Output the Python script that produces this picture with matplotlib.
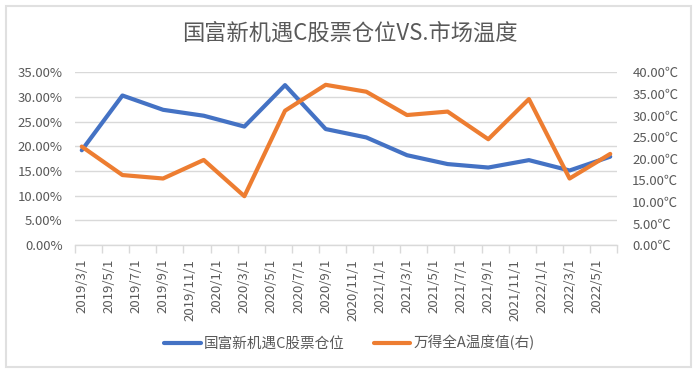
import numpy as np
import pandas as pd
import matplotlib
matplotlib.use('Agg')
import matplotlib.pyplot as plt
from matplotlib.patches import Rectangle
from matplotlib.ticker import MultipleLocator, FuncFormatter, FixedLocator

plt.rcParams['font.family'] = ['Noto Sans CJK SC', 'DejaVu Sans']

# quarterly observations (month of report)
quarters = ['2019-03', '2019-06', '2019-09', '2019-12', '2020-03', '2020-06', '2020-09',
            '2020-12', '2021-03', '2021-06', '2021-09', '2021-12', '2022-03', '2022-06']
stock_pos = [19.2, 30.3, 27.4, 26.2, 24.0, 32.4, 23.5, 21.8, 18.2, 16.4, 15.7, 17.2, 15.1, 17.9]  # %
temperature = [22.8, 16.2, 15.4, 19.7, 11.3, 31.1, 37.1, 35.5, 30.1, 30.9, 24.5, 33.8, 15.4, 21.1]  # ℃
tick_labels = ['2019/3/1', '2019/5/1', '2019/7/1', '2019/9/1', '2019/11/1', '2020/1/1',
               '2020/3/1', '2020/5/1', '2020/7/1', '2020/9/1', '2020/11/1', '2021/1/1',
               '2021/3/1', '2021/5/1', '2021/7/1', '2021/9/1', '2021/11/1', '2022/1/1',
               '2022/3/1', '2022/5/1']

title = '国富新机遇C股票仓位VS.市场温度'
name1 = '国富新机遇C股票仓位'
name2 = '万得全A温度值(右)'

grey_txt = '#595959'
grey_line = '#D9D9D9'


def month_index(d):
    # months since 2019/3, each month is one slot on the axis (Excel date axis)
    return (d.year - 2019) * 12 + d.month - 3


x = np.array([month_index(d) for d in pd.to_datetime(quarters, format='%Y-%m')]) + 0.5
tick_pos = np.array([month_index(d) for d in pd.to_datetime(tick_labels, format='%Y/%m/%d')]) + 0.5

fig = plt.figure(figsize=(6.99, 3.77), dpi=100)
W, H = 699, 377
ax = fig.add_axes([75 / W, 1 - 245 / H, (617 - 75) / W, (245 - 72.3) / H])
ax2 = ax.twinx()

l1, = ax.plot(x, stock_pos, color='#4472C4', lw=3, solid_joinstyle='round', solid_capstyle='round')
l2, = ax2.plot(x, temperature, color='#ED7D31', lw=3, solid_joinstyle='round', solid_capstyle='round')

ax.set_xlim(0, 40)
ax.set_ylim(0, 35)
ax2.set_ylim(0, 40)

ax.yaxis.set_major_locator(MultipleLocator(5))
ax.yaxis.set_major_formatter(FuncFormatter(lambda v, p: f'{v:.2f}%'))
ax2.yaxis.set_major_locator(MultipleLocator(5))
ax2.yaxis.set_major_formatter(FuncFormatter(lambda v, p: f'{v:.2f}℃'))

ax.grid(axis='y', color=grey_line, lw=1)
ax.set_axisbelow(True)

for s in ['top', 'left', 'right']:
    ax.spines[s].set_visible(False)
    ax2.spines[s].set_visible(False)
ax2.spines['bottom'].set_visible(False)
ax.spines['bottom'].set_color(grey_line)
ax.spines['bottom'].set_linewidth(1)

ax.xaxis.set_major_locator(MultipleLocator(2))
ax.xaxis.set_major_formatter(FuncFormatter(lambda v, p: ''))
ax.xaxis.set_minor_locator(FixedLocator(tick_pos))
ax.set_xticks(tick_pos, tick_labels, minor=True)
ax.tick_params(axis='x', which='major', length=6, color=grey_line, width=1)
ax.tick_params(axis='x', which='minor', length=0, pad=10, labelsize=9.5,
               labelcolor=grey_txt, labelrotation=90)

ax.tick_params(axis='y', length=0, pad=9, labelsize=9.5, labelcolor=grey_txt)
ax2.tick_params(axis='y', length=0, pad=11, labelsize=9.5, labelcolor=grey_txt)

fig.text(0.5, 1 - 33 / H, title, ha='center', va='center', fontsize=16, color=grey_txt)

fig.legend([l1, l2], [name1, name2], loc='center', bbox_to_anchor=(0.5, 1 - 343 / H),
           ncol=2, frameon=False, fontsize=10.5, handlelength=2.5, handletextpad=0.2,
           columnspacing=2.0, labelcolor=grey_txt)

fig.patches.append(Rectangle((6 / W, 1 - 367 / H), (691 - 6) / W, (367 - 6) / H,
                             transform=fig.transFigure, fill=False,
                             edgecolor='#E0E0E0', lw=1.5))

fig.savefig('out.png', dpi=100)
